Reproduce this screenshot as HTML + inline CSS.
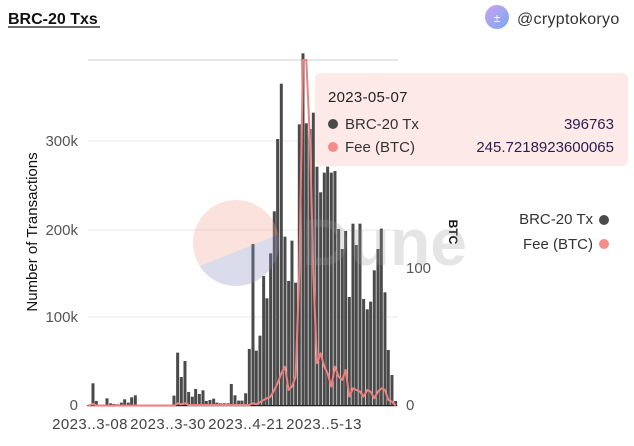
<!DOCTYPE html>
<html><head><meta charset="utf-8"><style>
body{margin:0;background:#fff;width:634px;height:441px;overflow:hidden;font-family:"Liberation Sans",sans-serif}
</style></head><body>
<svg width="634" height="441" xmlns="http://www.w3.org/2000/svg" font-family="Liberation Sans, sans-serif">
<text x="8" y="24" font-size="16" font-weight="bold" fill="#111">BRC-20 Txs</text>
<line x1="8" y1="27" x2="100" y2="27" stroke="#111" stroke-width="1.3"/>
<defs><linearGradient id="av" x1="0" y1="0" x2="1" y2="1"><stop offset="0" stop-color="#c9a2f0"/><stop offset="1" stop-color="#7aa9f0"/></linearGradient></defs>
<circle cx="497" cy="17" r="12" fill="url(#av)"/>
<text x="497" y="22" font-size="12" fill="#fff" text-anchor="middle">±</text>
<text x="517" y="24" font-size="16" fill="#333" letter-spacing="0.3">@cryptokoryo</text>
<g stroke="#eee" stroke-width="1.3"><line x1="88" y1="317" x2="398" y2="317"/><line x1="88" y1="230" x2="398" y2="230"/><line x1="88" y1="141" x2="398" y2="141"/></g>
<line x1="88" y1="60" x2="398" y2="60" stroke="#ccc"/>
<g font-size="15" fill="#555" text-anchor="end"><text x="78" y="410">0</text><text x="78" y="322">100k</text><text x="78" y="235">200k</text><text x="78" y="146">300k</text></g>
<text transform="translate(37,232) rotate(-90)" font-size="15" fill="#111" text-anchor="middle">Number of Transactions</text>
<g font-size="15" fill="#555"><text x="406" y="410">0</text><text x="406" y="273">100</text></g>
<text transform="translate(449,232) rotate(90)" font-size="12" font-weight="bold" fill="#111" text-anchor="middle">BTC</text>
<g font-size="15" fill="#444" text-anchor="middle" letter-spacing="0.4"><text x="90" y="429">2023..3-08</text><text x="168" y="429">2023..3-30</text><text x="246" y="429">2023..4-21</text><text x="324" y="429">2023..5-13</text></g>
<g transform="translate(0,40) scale(0.3333)">
<g fill="#4a4a4a" id="bars"></g>
<line x1="262" y1="1097" x2="1192" y2="1097" stroke="#222" stroke-width="4"/>
<polyline fill="none" stroke="#f08080" stroke-width="6" stroke-linejoin="round" points="265,1097 279,1092 290,1097 522,1097 533,1090 544,1093 555,1090 566,1095 748,1095 759,1090 769,1093 780,1087 791,1080 801,1075 812,1070 823,1050 833,1030 844,1000 855,980 866,1050 876,1040 887,1010 898,700 909,60 919,60 930,300 940,700 951,970 962,940 973,980 983,1000 994,1040 1005,980 1016,1010 1027,1020 1037,990 1048,1070 1059,1045 1069,1050 1080,1055 1091,1070 1102,1050 1112,1055 1123,1075 1134,1055 1144,1045 1155,1050 1165,1080 1176,1085 1187,1097"/>
</g>
<g opacity="0.3">
<clipPath id="cc"><circle cx="236" cy="243" r="43"/></clipPath>
<g clip-path="url(#cc)"><rect x="190" y="195" width="95" height="100" fill="#f4a090"/><polygon points="190,270 285,232 285,300 190,300" fill="#8b8fbf"/></g>
</g>
<text x="302" y="265" font-size="66" font-weight="bold" fill="#999" opacity="0.25">Dune</text>
<rect x="315" y="73" width="313" height="93" rx="6" fill="#fde9e8"/>
<text x="328" y="102" font-size="15" fill="#222" letter-spacing="0.3">2023-05-07</text>
<circle cx="333" cy="124" r="5" fill="#4a4a4a"/><text x="345" y="129" font-size="15" fill="#333">BRC-20 Tx</text><text x="614" y="129" font-size="15" fill="#2a2050" text-anchor="end">396763</text>
<circle cx="333" cy="147" r="5" fill="#f58b8b"/><text x="345" y="152" font-size="15" fill="#333">Fee (BTC)</text><text x="614" y="152" font-size="15" fill="#2a2050" text-anchor="end">245.7218923600065</text>
<text x="593" y="224" font-size="15" fill="#333" text-anchor="end">BRC-20 Tx</text><circle cx="604" cy="220" r="5" fill="#4a4a4a"/>
<text x="593" y="249" font-size="15" fill="#333" text-anchor="end">Fee (BTC)</text><circle cx="604" cy="244" r="5" fill="#f58b8b"/>
</svg>
<script>
var d=[[279,1030],[289,1083],[300,1094],[310,1094],[321,1075],[332,1090],[342,1092],[353,1093],[364,1088],[374,1078],[385,1088],[395,1072],[406,1066],[522,1067],[533,938],[544,1011],[555,963],[566,1056],[577,1070],[587,1047],[598,1062],[609,1051],[619,1083],[630,1080],[641,1076],[651,1088],[662,1090],[673,1090],[684,1090],[694,1032],[705,1066],[716,1082],[726,1082],[737,1060],[748,927],[759,612],[769,932],[780,887],[791,708],[801,775],[812,640],[823,514],[833,297],[844,131],[855,590],[866,723],[876,602],[887,728],[898,253],[909,40],[919,250],[930,267],[940,218],[951,380],[962,457],[973,398],[983,380],[994,398],[1005,393],[1016,567],[1027,627],[1037,573],[1048,771],[1059,551],[1069,615],[1080,551],[1091,777],[1102,808],[1112,785],[1123,691],[1134,627],[1144,566],[1155,757],[1165,930],[1176,1005],[1187,1083]];
for(var x=417;x<522;x+=10.6)d.push([x,1094]);
var g=document.getElementById('bars'),s='';
d.forEach(function(p){s+='<rect x="'+(p[0]-4.5)+'" y="'+p[1]+'" width="9" height="'+(1097-p[1])+'"/>';});
g.innerHTML=s;
</script>
</body></html>
